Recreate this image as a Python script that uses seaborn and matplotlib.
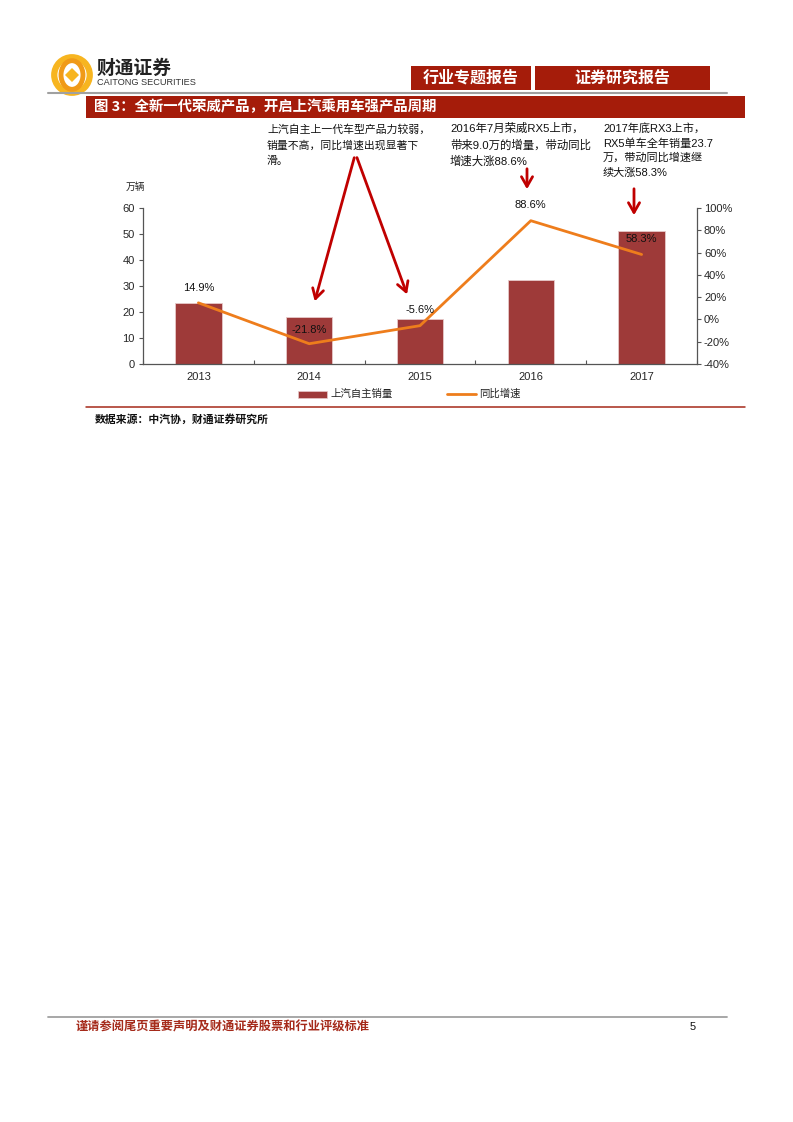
import matplotlib
matplotlib.use("Agg")
import matplotlib.pyplot as plt
import seaborn as sns
import numpy as np
import pandas as pd
from matplotlib.patches import Rectangle, FancyArrowPatch, Ellipse, Circle
from matplotlib.lines import Line2D

# ---------------- data ----------------
years = ["2013", "2014", "2015", "2016", "2017"]
sales = [23.3, 18.2, 17.2, 32.4, 51.3]          # 万辆
growth = [14.9, -21.8, -5.6, 88.6, 58.3]        # %
growth_labels = ["14.9%", "-21.8%", "-5.6%", "88.6%", "58.3%"]
left_ticks = [0, 10, 20, 30, 40, 50, 60]
right_ticks = [-40, -20, 0, 20, 40, 60, 80, 100]
bar_name = "上汽自主销量"
line_name = "同比增速"
unit_label = "万辆"
title = "图 3：全新一代荣威产品，开启上汽乘用车强产品周期"
source = "数据来源：中汽协，财通证券研究所"
note1 = "上汽自主上一代车型产品力较弱，\n销量不高，同比增速出现显著下\n滑。"
note2 = "2016年7月荣威RX5上市，\n带来9.0万的增量，带动同比\n增速大涨88.6%"
note3 = "2017年底RX3上市，\nRX5单车全年销量23.7\n万，带动同比增速继\n续大涨58.3%"
footer = "谨请参阅尾页重要声明及财通证券股票和行业评级标准"

sns.set_theme(style="white")
CJK = ["Liberation Sans", "Noto Sans CJK SC", "DejaVu Sans"]
plt.rcParams["font.family"] = CJK

W, H = 793, 1122
fig = plt.figure(figsize=(W / 100, H / 100), dpi=100)

def fx(x):
    return x / W

def fy(y):
    return 1 - y / H

BAR_C = "#9E3A39"
LINE_C = "#EE7D1C"
RED = "#A51C0A"
ARROW_C = "#C00000"

# ---------------- header ----------------
logo_ax = fig.add_axes([fx(51), fy(96), fx(42), 42 / H])
logo_ax.set_xlim(-1.1, 1.1)
logo_ax.set_ylim(-1.1, 1.1)
logo_ax.set_aspect("equal")
logo_ax.axis("off")
logo_ax.add_patch(Circle((0, 0), 0.93, fc="none", ec="#F7B520", lw=4.5))
logo_ax.add_patch(Ellipse((0, 0), 1.15, 1.5, fc="none", ec="#F09A18", lw=3.5))
logo_ax.add_patch(Rectangle((-0.26, -0.26), 0.52, 0.52, fc="#F7B520", ec="none",
                            transform=matplotlib.transforms.Affine2D().rotate_deg(45) + logo_ax.transData))

fig.text(fx(97), fy(68), "财通证券", fontsize=13.5, fontweight="bold", color="#222222",
         family=["Noto Sans CJK SC"], va="center", ha="left")
fig.text(fx(97), fy(82.5), "CAITONG SECURITIES", fontsize=6.6, color="#333333",
         family=["Liberation Sans"], va="center", ha="left")

fig.add_artist(Rectangle((fx(411), fy(90)), fx(120), 24 / H, fc=RED, ec="none"))
fig.add_artist(Rectangle((fx(535), fy(90)), fx(175), 24 / H, fc=RED, ec="none"))
fig.text(fx(471), fy(78), "行业专题报告", fontsize=11.5, fontweight="bold", color="white",
         family=["Noto Sans CJK SC"], ha="center", va="center")
fig.text(fx(622), fy(78), "证券研究报告", fontsize=11.5, fontweight="bold", color="white",
         family=["Noto Sans CJK SC"], ha="center", va="center")
fig.add_artist(Line2D([fx(48), fx(727)], [fy(92.5), fy(92.5)], color="#A0A0A0", lw=1.5))

# title bar
fig.add_artist(Rectangle((fx(86), fy(118)), fx(659), 22 / H, fc=RED, ec="none"))
fig.text(fx(94), fy(107), title, fontsize=10.4, fontweight="bold", color="white",
         family=["Noto Sans CJK SC"], ha="left", va="center")

# ---------------- chart ----------------
ax = fig.add_axes([fx(143), fy(364), fx(554), 156 / H])
df = pd.DataFrame({"year": years, "sales": sales, "growth": growth})
sns.barplot(data=df, x="year", y="sales", color=BAR_C, width=0.42, ax=ax,
            saturation=1, edgecolor="#E7C9C9", linewidth=0.6, label=bar_name)
ax.set_ylim(0, 60)
ax.set_xlim(-0.5, 4.5)
ax.set_yticks(left_ticks)
ax.set_xlabel("")
ax.set_ylabel("")
for s in ["top", "right"]:
    ax.spines[s].set_visible(False)
ax.spines["left"].set_color("#555555")
ax.spines["bottom"].set_color("#555555")
ax.spines["left"].set_linewidth(0.9)
ax.spines["bottom"].set_linewidth(0.9)
ax.tick_params(axis="y", which="major", direction="out", length=3, width=0.8,
               color="#555555", labelsize=8, pad=3, left=True)
ax.tick_params(axis="x", which="major", length=0, labelsize=8, pad=6)
ax.set_xticks(np.arange(-0.5, 5, 1.0), minor=True)
ax.tick_params(axis="x", which="minor", direction="in", length=3, width=0.8,
               color="#555555", bottom=True)

ax2 = ax.twinx()
sns.lineplot(x=years, y=growth, ax=ax2, color=LINE_C, lw=2, sort=False, label=line_name)
ax2.set_ylim(-40, 100)
ax2.set_yticks(right_ticks)
ax2.set_yticklabels([f"{t}%" for t in right_ticks])
for s in ["top", "left", "bottom"]:
    ax2.spines[s].set_visible(False)
ax2.spines["right"].set_color("#555555")
ax2.spines["right"].set_linewidth(0.9)
ax2.tick_params(axis="y", direction="out", length=3, width=0.8, color="#555555",
                labelsize=8, pad=2, right=True)
ax2.set_ylabel("")
ax.set_xlim(-0.5, 4.5)
ax2.set_xlim(-0.5, 4.5)
if ax2.get_legend():
    ax2.get_legend().remove()
if ax.get_legend():
    ax.get_legend().remove()

# data labels
for i, (g, lab) in enumerate(zip(growth, growth_labels)):
    dy = [11, 10, 11, 11, 11][i]
    ax2.annotate(lab, (i, g), xytext=(0, dy), textcoords="offset points",
                 ha="center", va="center", fontsize=8, color="#111111")

# unit label
fig.text(fx(135), fy(187), unit_label, fontsize=7, family=["Noto Sans CJK SC"],
         ha="center", va="center", color="#222222")

# legend (manual, below axis)
fig.add_artist(Rectangle((fx(298), fy(398)), fx(29), 7 / H, fc=BAR_C, ec="#E7C9C9", lw=0.5))
fig.text(fx(330), fy(394), bar_name, fontsize=7.5, family=["Noto Sans CJK SC"],
         ha="left", va="center", color="#222222")
fig.add_artist(Line2D([fx(447), fx(476)], [fy(394), fy(394)], color=LINE_C, lw=2))
fig.text(fx(479), fy(394), line_name, fontsize=7.5, family=["Noto Sans CJK SC"],
         ha="left", va="center", color="#222222")

# bottom red line & source
fig.add_artist(Line2D([fx(86), fx(745)], [fy(407), fy(407)], color="#A52A1A", lw=1.1))
fig.text(fx(95), fy(419), source, fontsize=7.8, fontweight="bold", style="italic",
         family=["Noto Sans CJK SC"], ha="left", va="center", color="#111111")

# annotations
fig.text(fx(267), fy(124), note1, fontsize=7.8, family=CJK, ha="left", va="top",
         color="#111111", linespacing=1.6)
fig.text(fx(450), fy(122), note2, fontsize=8.2, family=CJK, ha="left", va="top",
         color="#111111", linespacing=1.6)
fig.text(fx(603), fy(123), note3, fontsize=8.0, family=CJK, ha="left", va="top",
         color="#111111", linespacing=1.5)

def arrow(x0, y0, x1, y1):
    a = FancyArrowPatch((fx(x0), fy(y0)), (fx(x1), fy(y1)), transform=fig.transFigure,
                        arrowstyle="->,head_length=7,head_width=4", color=ARROW_C,
                        lw=2, mutation_scale=1)
    fig.add_artist(a)

arrow(355, 155, 314, 304)
arrow(356, 155, 408, 297)
arrow(527, 166, 527, 192)
arrow(634, 186, 634, 218)

# footer
fig.add_artist(Line2D([fx(48), fx(727)], [fy(1017), fy(1017)], color="#A0A0A0", lw=1.3))
fig.text(fx(76), fy(1027), footer, fontsize=8.8, fontweight="bold", color="#A52A1A",
         family=["Noto Sans CJK SC"], ha="left", va="center")
fig.text(fx(693), fy(1027), "5", fontsize=8, color="#111111", ha="center", va="center")

fig.savefig("out.png", dpi=100)
